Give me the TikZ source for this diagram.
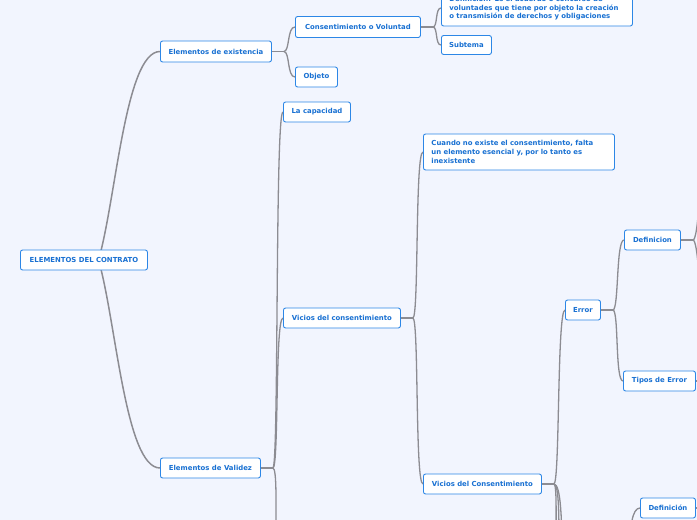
\documentclass[tikz,border=0pt]{standalone}
\usepackage{fontspec}
\setmainfont{DejaVu Sans}
\usetikzlibrary{calc}
\definecolor{bgc}{RGB}{242,245,254}
\definecolor{boxb}{RGB}{45,135,230}
\definecolor{txtb}{RGB}{24,112,210}
\definecolor{linec}{RGB}{140,140,146}
\pgfdeclarelayer{bg}
\pgfsetlayers{bg,main}
\begin{document}
\begin{tikzpicture}[x=1pt,y=-1pt,
  topic/.style={draw=boxb, fill=white, rounded corners=2.2pt, line width=0.9pt,
    text=txtb, font=\fontsize{6.9}{8.8}\selectfont\bfseries, inner xsep=0pt, inner ysep=0pt,
    anchor=west, minimum height=20pt, align=center},
  longtopic/.style={topic, text width=175pt, inner xsep=8pt, align=left},
  branch/.style={draw=linec, line width=1.3pt}]
\useasboundingbox (0,0) rectangle (697,520);
\begin{pgfonlayer}{bg}
\fill[bgc] (0,0) rectangle (697,520);
\end{pgfonlayer}
\clip (0,0) rectangle (697,520);

% nodes
\path
  (20,260)  node[topic, minimum width=127pt] (root) {ELEMENTOS DEL CONTRATO}
  (160,51.5) node[topic, minimum width=111pt, minimum height=21pt] (exist) {Elementos de existencia}
  (160,468) node[topic, minimum width=100pt] (valid) {Elementos de Validez}
  (295,27)  node[topic, minimum width=125pt, minimum height=21pt] (consent) {Consentimiento o Voluntad}
  (295,77)  node[topic, minimum width=42pt] (objeto) {Objeto}
  (441,8)   node[longtopic, minimum height=36pt] (defi) {Definición: Es el acuerdo o concurso de\\voluntades que tiene por objeto la creación\\o transmisión de derechos y obligaciones}
  (441,45)  node[topic, minimum width=50pt, minimum height=19pt] (subtema) {Subtema}
  (283,112) node[topic, minimum width=67pt] (capac) {La capacidad}
  (283,318) node[topic, minimum width=117pt] (vicios) {Vicios del consentimiento}
  (423,152) node[longtopic, minimum height=36pt] (cuando) {Cuando no existe el consentimiento, falta\\un elemento esencial y, por lo tanto es\\inexistente}
  (423,484) node[topic, minimum width=118pt] (viciosb) {Vicios del Consentimiento}
  (565,310) node[topic, minimum width=35pt] (error) {Error}
  (624,240) node[topic, minimum width=56pt] (definicion) {Definicion}
  (623,381) node[topic, minimum width=72pt] (tipos) {Tipos de Error}
  (640,508) node[topic, minimum width=55pt] (definb) {Definición};

% off-picture ends
\coordinate (offA) at (276,545);
\coordinate (offB1) at (556,545);
\coordinate (offB2) at (559,545);
\coordinate (offB3) at (562,560);
\coordinate (offC) at (630,548);
\coordinate (offD1) at (702,150);
\coordinate (offD2) at (702,330);
\coordinate (offE) at (710,381);
\coordinate (offF) at (710,508);

\begin{pgfonlayer}{bg}
\draw[branch, line width=1.5pt] ([shift={(14,2)}]root.center) .. controls +(18,-60) and +(-35,0) .. (exist.west);
\draw[branch, line width=1.5pt] ([shift={(14,-2)}]root.center) .. controls +(18,60) and +(-35,0) .. (valid.west);

\draw[branch] (exist.east) -- ++(12,0) coordinate (j1);
\draw[branch] (j1) .. controls +(6,0) and +(-8,0) .. (consent.west);
\draw[branch] (j1) .. controls +(6,0) and +(-8,0) .. (objeto.west);

\draw[branch] (consent.east) -- ++(12,0) coordinate (j2);
\draw[branch] (j2) .. controls +(5,0) and +(-6,0) .. (defi.west);
\draw[branch] (j2) .. controls +(5,0) and +(-6,0) .. (subtema.west);

\draw[branch] (valid.east) -- ++(12,0) coordinate (j3);
\draw[branch] (j3) .. controls +(6,0) and +(-8,0) .. (capac.west);
\draw[branch] (j3) .. controls +(6,0) and +(-8,0) .. (vicios.west);
\draw[branch] (j3) .. controls +(4,0) and +(0,-40) .. (offA);

\draw[branch] (vicios.east) -- ++(12,0) coordinate (j4);
\draw[branch] (j4) .. controls +(6,0) and +(-8,0) .. (cuando.west);
\draw[branch] (j4) .. controls +(6,0) and +(-8,0) .. (viciosb.west);

\draw[branch] (viciosb.east) -- ++(12,0) coordinate (j5);
\draw[branch] (j5) .. controls +(6,0) and +(-8,0) .. (error.west);
\draw[branch] (j5) .. controls +(3,0) and +(0,-30) .. (offB1);
\draw[branch] (j5) .. controls +(5,0) and +(0,-30) .. (offB2);
\draw[branch] (j5) .. controls +(7,0) and +(0,-40) .. (offB3);

\draw[branch] (error.east) -- ++(12,0) coordinate (j6);
\draw[branch] (j6) .. controls +(6,0) and +(-8,0) .. (definicion.west);
\draw[branch] (j6) .. controls +(6,0) and +(-8,0) .. (tipos.west);

\draw[branch] (definicion.east) -- ++(12,0) coordinate (j7);
\draw[branch] (j7) .. controls +(5,0) and +(-2,40) .. (offD1);
\draw[branch] (j7) .. controls +(5,0) and +(-2,-40) .. (offD2);

\draw[branch] (tipos.east) -- (offE);
\draw[branch] (definb.east) -- (offF);
\draw[branch] (offC) .. controls +(0,-20) and +(-8,0) .. (definb.west);
\end{pgfonlayer}
\end{tikzpicture}
\end{document}
